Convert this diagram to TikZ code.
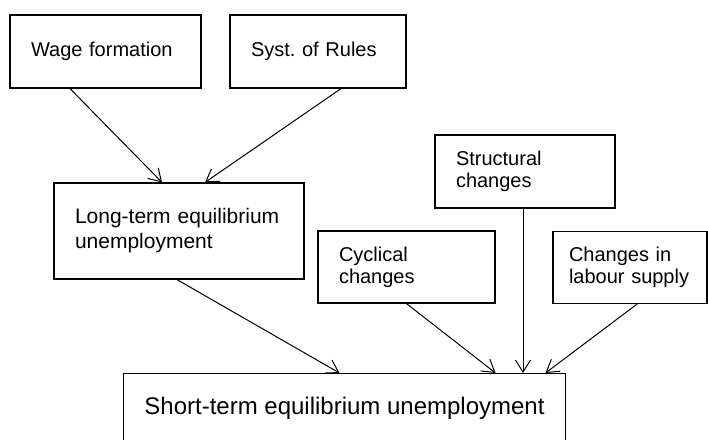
\documentclass[tikz,border=0pt]{standalone}
\usepackage{fontspec}
\setmainfont{Liberation Sans}
\usetikzlibrary{arrows.meta, positioning}
\frenchspacing
\hyphenpenalty=10000

\begin{document}
\begin{tikzpicture}[x=1pt, y=-1pt,
    factor/.style={draw, line width=1.2pt, align=left, inner xsep=21pt, inner ysep=0pt,
      font=\fontsize{20}{22}\selectfont},
    arr/.style={line width=1pt, -{Straight Barb[length=12pt, width=15pt, line width=1pt]}}]
     \useasboundingbox (0,0) rectangle (708,439);
     \clip (0,0) rectangle (708,439);
     % top row
     \node[factor, text width=149pt, minimum height=73pt] (wage) at (105.5,51.5) {Wage formation};
     \node[factor, text width=134pt, minimum height=73pt] (syst) at (318,51.5) {Syst. of Rules};
     % middle
     \node[factor, text width=208pt, minimum height=96pt, font=\fontsize{21}{25}\selectfont] (long) at (179,231)
     {Long-term equilibrium\\unemployment};
     \node[factor, text width=138pt, minimum height=73pt] (struct) at (525,171.5) {Structural\\changes};
     \node[factor, text width=135pt, minimum height=72pt] (cyc) at (406.5,267) {Cyclical\\changes};
     \node[factor, text width=122pt, inner xsep=16pt, minimum height=72pt] (labour) at (630,267.5)
     {Changes in\\labour supply};
     % bottom, runs past the lower edge
     \node[factor, anchor=north, align=center, minimum width=441pt, inner ysep=23.5pt, text depth=22pt,
       font=\fontsize{24}{28}\selectfont] (short) at (344.5,373) {Short-term equilibrium unemployment};
     % links
     \draw[arr] ([xshift=-35.5pt]wage.south) -- ([xshift=-17pt]long.north);
     \draw[arr] ([xshift=23pt]syst.south) -- ([xshift=26pt]long.north);
     \draw[arr] ([xshift=-2pt]long.south) -- ([xshift=-5pt]short.north);
     \draw[arr] (cyc.south) -- ([xshift=151pt]short.north);
     \draw[arr] ([xshift=-2pt]struct.south) -- ([xshift=-2pt]struct.south |- short.north);
     \draw[arr] ([xshift=7pt]labour.south) -- ([xshift=201pt]short.north);
   \end{tikzpicture}
\end{document}
